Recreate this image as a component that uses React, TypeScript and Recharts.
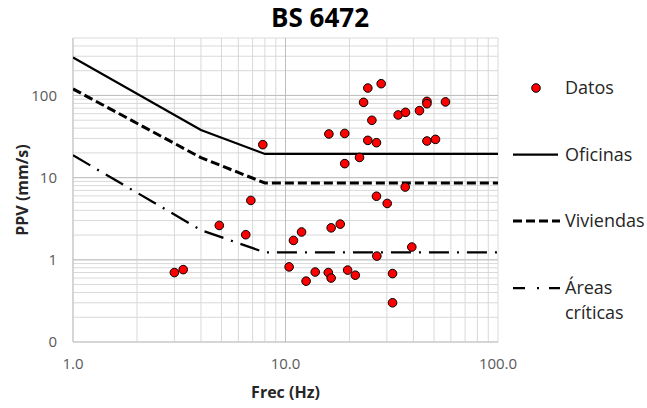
import React from 'react';
import {
  ScatterChart,
  Scatter,
  XAxis,
  YAxis,
  CartesianGrid,
  ReferenceLine,
  Label,
} from 'recharts';

// mediciones: frecuencia (Hz) y PPV (mm/s)
const datosFrec = [
  3.0, 3.3, 4.88, 6.5, 6.87, 7.82, 10.4, 10.9, 11.9, 12.5, 13.8, 15.9, 16.4, 16.4,
  18.1, 19.6, 21.3, 26.8, 30.1, 26.9, 31.9, 31.9, 39.3, 36.6, 16.0, 19.0, 19.0, 22.3,
  24.4, 28.2, 23.3, 25.5, 24.4, 26.8, 33.9, 36.7, 42.7, 46.3, 46.3, 56.6, 46.3, 50.8,
];
const datosPpv = [
  0.7, 0.76, 2.62, 2.02, 5.28, 25.2, 0.82, 1.72, 2.18, 0.55, 0.71, 0.7, 0.6, 2.45,
  2.72, 0.75, 0.65, 5.94, 4.85, 1.11, 0.68, 0.3, 1.43, 7.68, 34.0, 34.5, 14.8, 17.6,
  123, 139, 82.4, 49.8, 28.4, 26.6, 57.9, 62.3, 65.3, 84.7, 79.4, 83.4, 27.9, 29.2,
];

// curvas límite
const limiteFrec = [1, 4, 8, 100];
const oficinasPpv = [290, 38, 19.4, 19.4];
const viviendasPpv = [120, 17.5, 8.6, 8.6];
const criticasPpv = [18.7, 2.3, 1.23, 1.23];

const xTicks = [1, 2, 3, 4, 5, 6, 7, 8, 9, 10, 20, 30, 40, 50, 60, 70, 80, 90, 100];
const yTicks = [
  0.1, 0.2, 0.3, 0.4, 0.5, 0.6, 0.7, 0.8, 0.9, 1, 2, 3, 4, 5, 6, 7, 8, 9, 10, 20, 30,
  40, 50, 60, 70, 80, 90, 100, 200, 300, 400, 500,
];
const xLabels: Record<number, string> = { 1: '1.0', 10: '10.0', 100: '100.0' };
const yLabels: Record<number, string> = { 0.1: '0', 1: '1', 10: '10', 100: '100' };

const FONT = '"Open Sans", sans-serif';

const toPoints = (xs: number[], ys: number[]) => xs.map((x, i) => ({ x, y: ys[i] }));

const datos = toPoints(datosFrec, datosPpv);
const oficinas = toPoints(limiteFrec, oficinasPpv);
const viviendas = toPoints(limiteFrec, viviendasPpv);
const criticas = toPoints(limiteFrec, criticasPpv);

const noShape = () => <g />;

const legendText: React.CSSProperties = {
  position: 'absolute',
  left: 565,
  fontFamily: FONT,
  fontSize: 18,
  color: '#262626',
  lineHeight: '25px',
  whiteSpace: 'nowrap',
};

export default function App() {
  return (
    <div style={{ position: 'absolute', left: 0, top: 0, width: 647, height: 408, background: '#fff' }}>
      <div
        style={{
          position: 'absolute',
          left: 220,
          width: 200,
          top: 0,
          textAlign: 'center',
          fontFamily: FONT,
          fontWeight: 700,
          fontSize: 26,
          lineHeight: '34px',
          color: '#000',
        }}
      >
        BS 6472
      </div>

      <ScatterChart
        width={647}
        height={408}
        margin={{ top: 38, right: 149, bottom: 0, left: 0 }}
        style={{ position: 'absolute', left: 0, top: 0 }}
      >
        <CartesianGrid stroke="#d9d9d9" strokeWidth={1} />
        <ReferenceLine x={10} stroke="#bfbfbf" />
        <ReferenceLine y={1} stroke="#bfbfbf" />
        <ReferenceLine y={10} stroke="#bfbfbf" />
        <ReferenceLine y={100} stroke="#bfbfbf" />
        <XAxis
          type="number"
          dataKey="x"
          scale="log"
          domain={[1, 100]}
          ticks={xTicks}
          interval={0}
          allowDataOverflow
          height={66}
          tickLine={false}
          axisLine={{ stroke: '#bfbfbf' }}
          tickMargin={10}
          tickFormatter={(v: number) => xLabels[v] ?? ''}
          tick={{ fontSize: 15, fill: '#595959', fontFamily: FONT }}
        >
          <Label
            value="Frec (Hz)"
            position="insideBottom"
            offset={10}
            style={{ fontSize: 16, fontWeight: 700, fill: '#262626', fontFamily: FONT }}
          />
        </XAxis>
        <YAxis
          type="number"
          dataKey="y"
          scale="log"
          domain={[0.1, 500]}
          ticks={yTicks}
          interval={0}
          allowDataOverflow
          width={73}
          tickLine={false}
          axisLine={{ stroke: '#bfbfbf' }}
          tickMargin={10}
          tickFormatter={(v: number) => yLabels[v] ?? ''}
          tick={{ fontSize: 15, fill: '#595959', fontFamily: FONT }}
        >
          <Label
            content={({ viewBox }: any) => {
              const cx = viewBox.x + 22;
              const cy = viewBox.y + viewBox.height / 2;
              return (
                <text
                  x={cx}
                  y={cy}
                  transform={`rotate(-90 ${cx} ${cy})`}
                  textAnchor="middle"
                  dominantBaseline="central"
                  style={{ fontSize: 16, fontWeight: 700, fill: '#262626', fontFamily: FONT }}
                >
                  PPV (mm/s)
                </text>
              );
            }}
          />
        </YAxis>
        <Scatter
          data={oficinas}
          line={{ stroke: '#000', strokeWidth: 2.25 }}
          shape={noShape}
          isAnimationActive={false}
        />
        <Scatter
          data={viviendas}
          line={{ stroke: '#000', strokeWidth: 3, strokeDasharray: '9 4' }}
          shape={noShape}
          isAnimationActive={false}
        />
        <Scatter
          data={criticas}
          line={{ stroke: '#000', strokeWidth: 2.25, strokeDasharray: '20 8 2 8' }}
          shape={noShape}
          isAnimationActive={false}
        />
        <Scatter
          data={datos}
          fill="#ff0000"
          stroke="#000"
          strokeWidth={1}
          shape={(p: any) => (
            <circle cx={p.cx} cy={p.cy} r={4.3} fill="#ff0000" stroke="#000" strokeWidth={1} />
          )}
          isAnimationActive={false}
        />
      </ScatterChart>

      {/* leyenda */}
      <svg style={{ position: 'absolute', left: 0, top: 0 }} width={647} height={408} pointerEvents="none">
        <circle cx={536} cy={88} r={4.3} fill="#ff0000" stroke="#000" strokeWidth={1} />
        <line x1={513} x2={558} y1={154.5} y2={154.5} stroke="#000" strokeWidth={2.25} />
        <line x1={513} x2={560} y1={221} y2={221} stroke="#000" strokeWidth={3} strokeDasharray="9 4" />
        <line x1={513} x2={560} y1={288} y2={288} stroke="#000" strokeWidth={2.25} strokeDasharray="12 12 2 10" />
      </svg>
      <div style={{ ...legendText, top: 75 }}>Datos</div>
      <div style={{ ...legendText, top: 142 }}>Oficinas</div>
      <div style={{ ...legendText, top: 208 }}>Viviendas</div>
      <div style={{ ...legendText, top: 275 }}>
        Áreas
        <br />
        críticas
      </div>
    </div>
  );
}
